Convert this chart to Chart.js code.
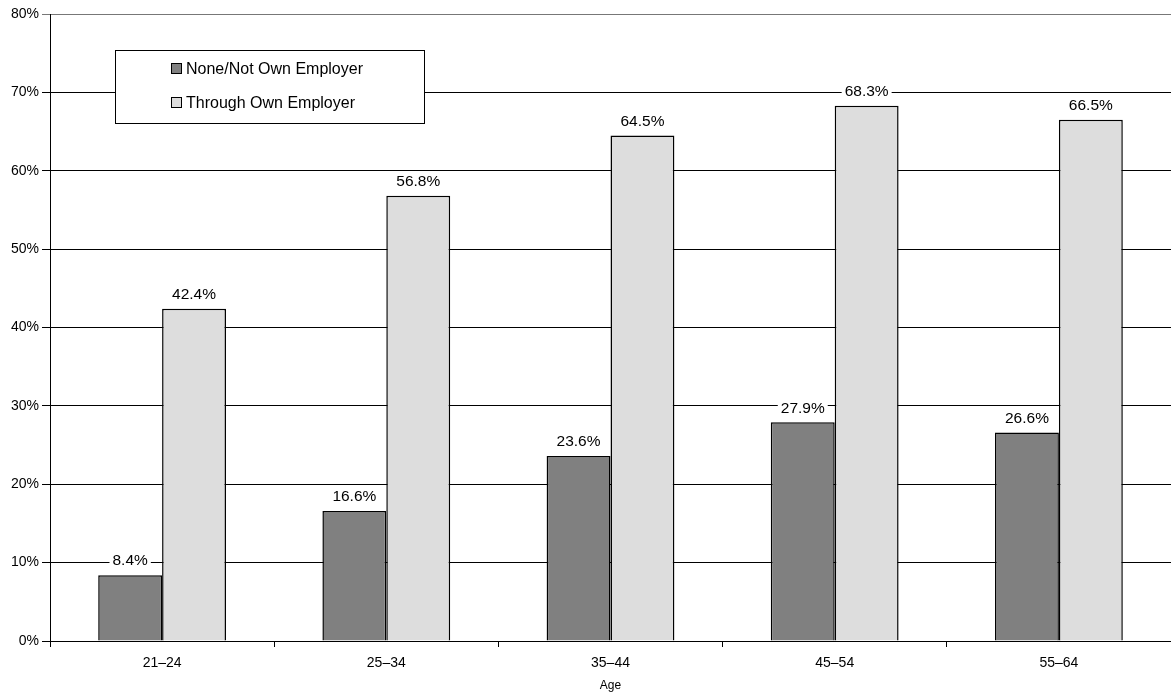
<!DOCTYPE html>
<html>
<head>
<meta charset="utf-8">
<script src="https://cdn.jsdelivr.net/npm/chart.js@4.4.0/dist/chart.umd.min.js"></script>
<style>
  html, body { margin: 0; padding: 0; background: #fff; }
  #wrap { width: 1171px; height: 696px; }
</style>
</head>
<body>
<div id="wrap"><canvas id="grafico" width="1171" height="696"></canvas></div>
<script>
// Dados do gráfico
const faixasEtarias = ['21–24', '25–34', '35–44', '45–54', '55–64'];
const nenhumEmpregador = [8.4, 16.6, 23.6, 27.9, 26.6];
const proprioEmpregador = [42.4, 56.8, 64.5, 68.3, 66.5];
const rotulosSeries = ['None/Not Own Employer', 'Through Own Employer'];
const coresSeries = ['#808080', '#dddddd'];

const FONTE = '"Liberation Sans", Arial, sans-serif';

// Rótulos de valor acima das barras, com fundo branco
const rotulosValor = {
    id: 'rotulosValor',
    afterDatasetsDraw(chart) {
        const ctx = chart.ctx;
        ctx.save();
        ctx.font = '15.5px ' + FONTE;
        ctx.textAlign = 'center';
        ctx.textBaseline = 'middle';
        chart.data.datasets.forEach((ds, i) => {
            chart.getDatasetMeta(i).data.forEach((bar, j) => {
                const texto = ds.data[j].toFixed(1) + '%';
                const w = ctx.measureText(texto).width;
                const y = bar.y - 15;
                ctx.fillStyle = '#fff';
                ctx.fillRect(bar.x - w / 2 - 3, y - 8, w + 6, 16);
                ctx.fillStyle = '#000';
                ctx.fillText(texto, bar.x, y + 1);
            });
        });
        ctx.restore();
    }
};

// Legenda desenhada dentro da área do gráfico
const legendaCaixa = {
    id: 'legendaCaixa',
    afterDraw(chart) {
        const ctx = chart.ctx;
        ctx.save();
        ctx.fillStyle = '#fff';
        ctx.fillRect(115.5, 50.5, 309, 73);
        ctx.strokeStyle = '#000';
        ctx.lineWidth = 1;
        ctx.strokeRect(115.5, 50.5, 309, 73);
        ctx.font = '16px ' + FONTE;
        ctx.textBaseline = 'middle';
        chart.data.datasets.forEach((ds, i) => {
            const y = 69 + i * 34;
            ctx.fillStyle = ds.backgroundColor;
            ctx.fillRect(171.5, y - 5.5, 10, 10);
            ctx.strokeRect(171.5, y - 5.5, 10, 10);
            ctx.fillStyle = '#000';
            ctx.fillText(ds.label, 186, y + 1);
        });
        ctx.restore();
    }
};

new Chart(document.getElementById('grafico'), {
    type: 'bar',
    data: {
        labels: faixasEtarias,
        datasets: [
            {
                label: rotulosSeries[0],
                data: nenhumEmpregador,
                backgroundColor: coresSeries[0],
                borderColor: '#000',
                borderWidth: 1.5
            },
            {
                label: rotulosSeries[1],
                data: proprioEmpregador,
                backgroundColor: coresSeries[1],
                borderColor: '#000',
                borderWidth: 1.5
            }
        ]
    },
    options: {
        responsive: false,
        animation: false,
        layout: { padding: { top: 14, right: 0, bottom: 0, left: 0 } },
        datasets: { bar: { categoryPercentage: 0.57, barPercentage: 1 } },
        plugins: {
            legend: { display: false },
            tooltip: { enabled: false }
        },
        scales: {
            x: {
                afterFit(scale) { scale.height = 55; },
                grid: {
                    offset: true,
                    drawOnChartArea: false,
                    drawTicks: true,
                    tickLength: 6,
                    color: '#000'
                },
                border: { color: '#000', width: 1 },
                ticks: { color: '#000', font: { family: FONTE, size: 14 }, padding: 8 },
                title: {
                    display: true,
                    text: 'Age',
                    color: '#000',
                    font: { family: FONTE, size: 12 },
                    padding: { top: 0, bottom: 3 }
                }
            },
            y: {
                min: 0,
                max: 80,
                afterFit(scale) { scale.width = 50; },
                grid: {
                    color: (c) => (c.tick && c.tick.value === 80 ? '#777' : '#000'),
                    tickLength: 8
                },
                border: { color: '#000', width: 1 },
                ticks: {
                    stepSize: 10,
                    color: '#000',
                    padding: 3,
                    font: { family: FONTE, size: 14 },
                    callback: (v) => v + '%'
                }
            }
        }
    },
    plugins: [rotulosValor, legendaCaixa]
});
</script>
</body>
</html>
